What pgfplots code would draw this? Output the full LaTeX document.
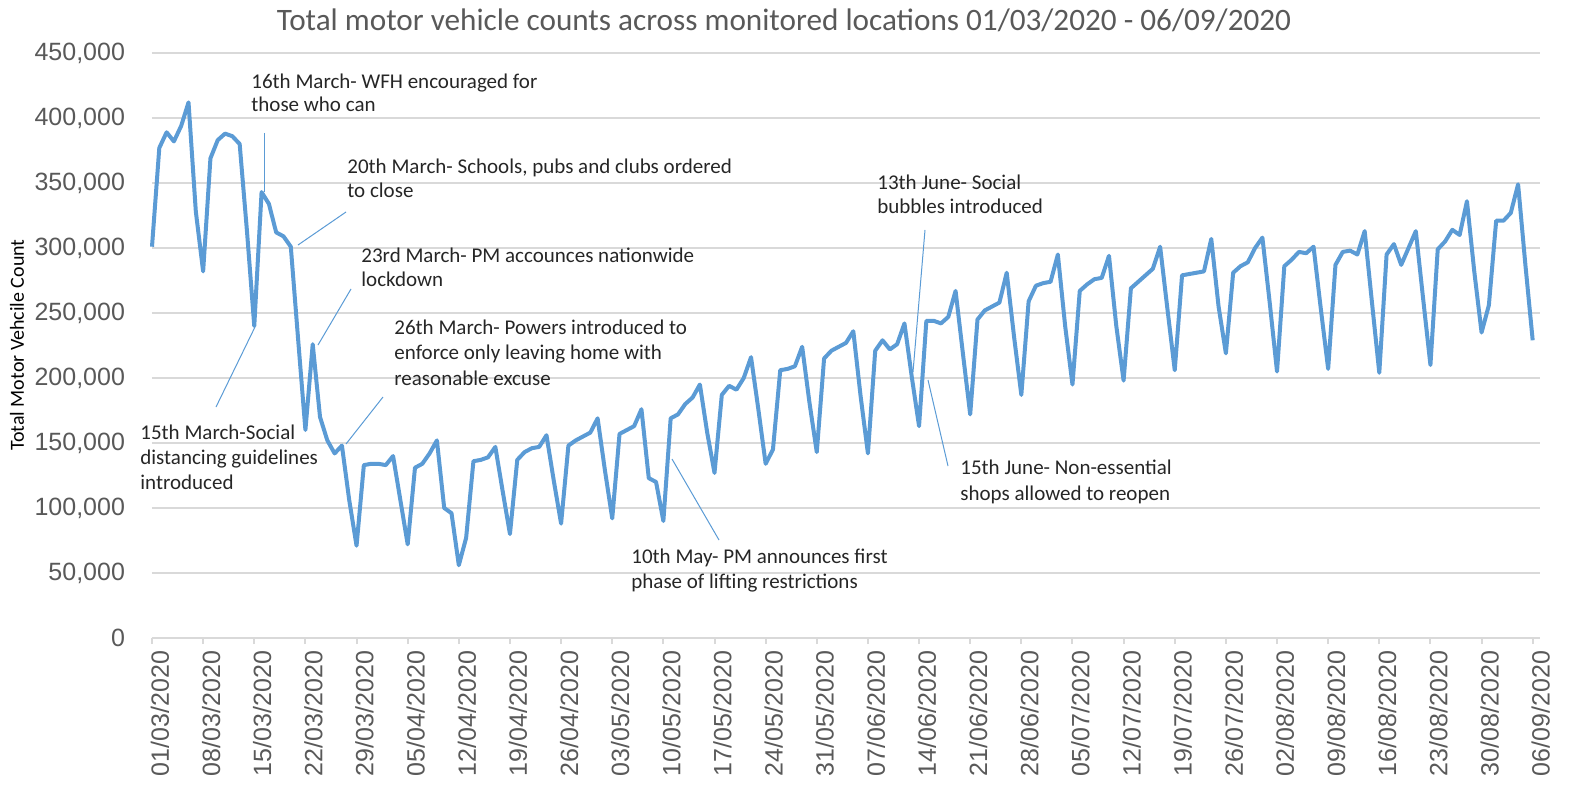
\documentclass[border=0pt]{standalone}
\usepackage{pgfplots}
\usepackage{pgfplotstable}
\pgfplotsset{compat=1.18}
\usepackage{fontspec}
\setmainfont{Carlito}
\newfontfamily\arialfont{Liberation Sans}
\definecolor{lineblue}{HTML}{5B9BD5}
\definecolor{gridgray}{HTML}{D9D9D9}
\definecolor{tickgray}{HTML}{595959}
\definecolor{annot}{HTML}{262626}

\pgfplotstableread{
day value
0 301000
1 377000
2 389000
3 382000
4 394000
5 412000
6 328000
7 282000
8 369000
9 383000
10 388000
11 386000
12 380000
13 313000
14 240000
15 343000
16 334000
17 312000
18 309000
19 301000
20 230000
21 160000
22 226000
23 170000
24 152000
25 142000
26 148000
27 106000
28 71000
29 133000
30 134000
31 134000
32 133000
33 140000
34 106000
35 72000
36 131000
37 134000
38 142000
39 152000
40 100000
41 96000
42 56000
43 77000
44 136000
45 137000
46 139000
47 147000
48 113000
49 80000
50 137000
51 143000
52 146000
53 147000
54 156000
55 121000
56 88000
57 148000
58 152000
59 155000
60 158000
61 169000
62 129000
63 92000
64 157000
65 160000
66 163000
67 176000
68 123000
69 120000
70 90000
71 169000
72 172000
73 180000
74 185000
75 195000
76 158000
77 127000
78 187000
79 194000
80 191000
81 200000
82 216000
83 176000
84 134000
85 145000
86 206000
87 207000
88 209000
89 224000
90 181000
91 143000
92 215000
93 221000
94 224000
95 227000
96 236000
97 186000
98 142000
99 221000
100 229000
101 222000
102 226000
103 242000
104 201000
105 163000
106 244000
107 244000
108 242000
109 247000
110 267000
111 219000
112 172000
113 245000
114 252000
115 255000
116 258000
117 281000
118 232000
119 187000
120 259000
121 271000
122 273000
123 274000
124 295000
125 240000
126 195000
127 267000
128 272000
129 276000
130 277000
131 294000
132 240000
133 198000
134 269000
135 274000
136 279000
137 284000
138 301000
139 253000
140 206000
141 279000
142 280000
143 281000
144 282000
145 307000
146 255000
147 219000
148 281000
149 286000
150 289000
151 300000
152 308000
153 258000
154 205000
155 286000
156 291000
157 297000
158 296000
159 301000
160 253000
161 207000
162 287000
163 297000
164 298000
165 295000
166 313000
167 258000
168 204000
169 295000
170 303000
171 287000
172 300000
173 313000
174 261000
175 210000
176 299000
177 305000
178 314000
179 310000
180 336000
181 282000
182 235000
183 256000
184 321000
185 321000
186 327000
187 349000
188 287000
189 229000
}\datatable

\begin{document}
\begin{tikzpicture}
\begin{axis}[
  at={(0,0)}, anchor=south west,
  scale only axis, width=694pt, height=292.5pt,
  xmin=0, xmax=190, ymin=0, ymax=450000,
  axis x line=bottom, axis y line=left,
  axis line style={-},
  x axis line style={draw=gridgray, line width=1.2pt},
  y axis line style={draw=none},
  ytick={0,50000,...,450000},
  ymajorgrids, grid style={gridgray, line width=1pt},
  xtick={0,7,...,189},
  xticklabels={01/03/2020,08/03/2020,15/03/2020,22/03/2020,29/03/2020,05/04/2020,12/04/2020,19/04/2020,26/04/2020,03/05/2020,10/05/2020,17/05/2020,24/05/2020,31/05/2020,07/06/2020,14/06/2020,21/06/2020,28/06/2020,05/07/2020,12/07/2020,19/07/2020,26/07/2020,02/08/2020,09/08/2020,16/08/2020,23/08/2020,30/08/2020,06/09/2020},
  tick align=outside,
  major tick length=3pt,
  xtick style={draw=gridgray, line width=1pt},
  ytick style={draw=none},
  x tick label style={rotate=90, anchor=east, font=\arialfont\fontsize{12.5}{12.5}\selectfont, text=tickgray, yshift=-4pt},
  y tick label style={font=\arialfont\fontsize{12.5}{12.5}\selectfont, text=tickgray, xshift=-7pt},
  scaled y ticks=false,
  yticklabel style={/pgf/number format/.cd, fixed, 1000 sep={,}, assume math mode=true},
  clip=false,
]
\addplot[lineblue, line width=2pt, line join=round, mark=none] table[x=day,y=value]{\datatable};
\end{axis}
\begin{scope}[shift={(-76pt,319pt)}, x=0.5pt, y=-0.5pt]
  % title
  \node[text=tickgray, font=\fontsize{15.6}{17}\selectfont, anchor=base] at (784,31) {Total motor vehicle counts across monitored locations 01/03/2020 - 06/09/2020};
  % y label
  \node[rotate=90, font=\fontsize{10}{12}\selectfont, anchor=center] at (17,345) {Total Motor Vehcile Count};
  % leaders
  \begin{scope}[draw=lineblue, line width=0.5pt]
    \draw (264,133) -- (264,192);
    \draw (346,212) -- (298,245);
    \draw (351,289) -- (318,345);
    \draw (383,397) -- (346,444);
    \draw (216,407) -- (255,327);
    \draw (672,459) -- (719,540);
    \draw (925,230) -- (913,372);
    \draw (928,380) -- (948,466);
  \end{scope}
  \begin{scope}[every node/.style={anchor=base west, inner sep=0pt, text=annot, font=\fontsize{10.5}{12}\selectfont}]
    \node at (251,89) {16th March- WFH encouraged for};
    \node at (251,112) {those who can};
    \node at (347,173) {20th March- Schools, pubs and clubs ordered};
    \node at (347,197) {to close};
    \node at (361,262) {23rd March- PM accounces nationwide};
    \node at (361,286) {lockdown};
    \node at (394,334) {26th March- Powers introduced to};
    \node at (394,359) {enforce only leaving home with};
    \node at (394,385) {reasonable excuse};
    \node at (140,439) {15th March-Social};
    \node at (140,464) {distancing guidelines};
    \node at (140,489) {introduced};
    \node at (631,563) {10th May- PM announces first};
    \node at (631,588) {phase of lifting restrictions};
    \node at (877,189) {13th June- Social};
    \node at (877,214) {bubbles introduced};
    \node at (960,474) {15th June- Non-essential};
    \node at (960,500) {shops allowed to reopen};
  \end{scope}
\end{scope}
\pgfresetboundingbox
\path[use as bounding box] (-76pt,319pt) rectangle ++(786.5pt,-405pt);
\end{tikzpicture}
\end{document}
